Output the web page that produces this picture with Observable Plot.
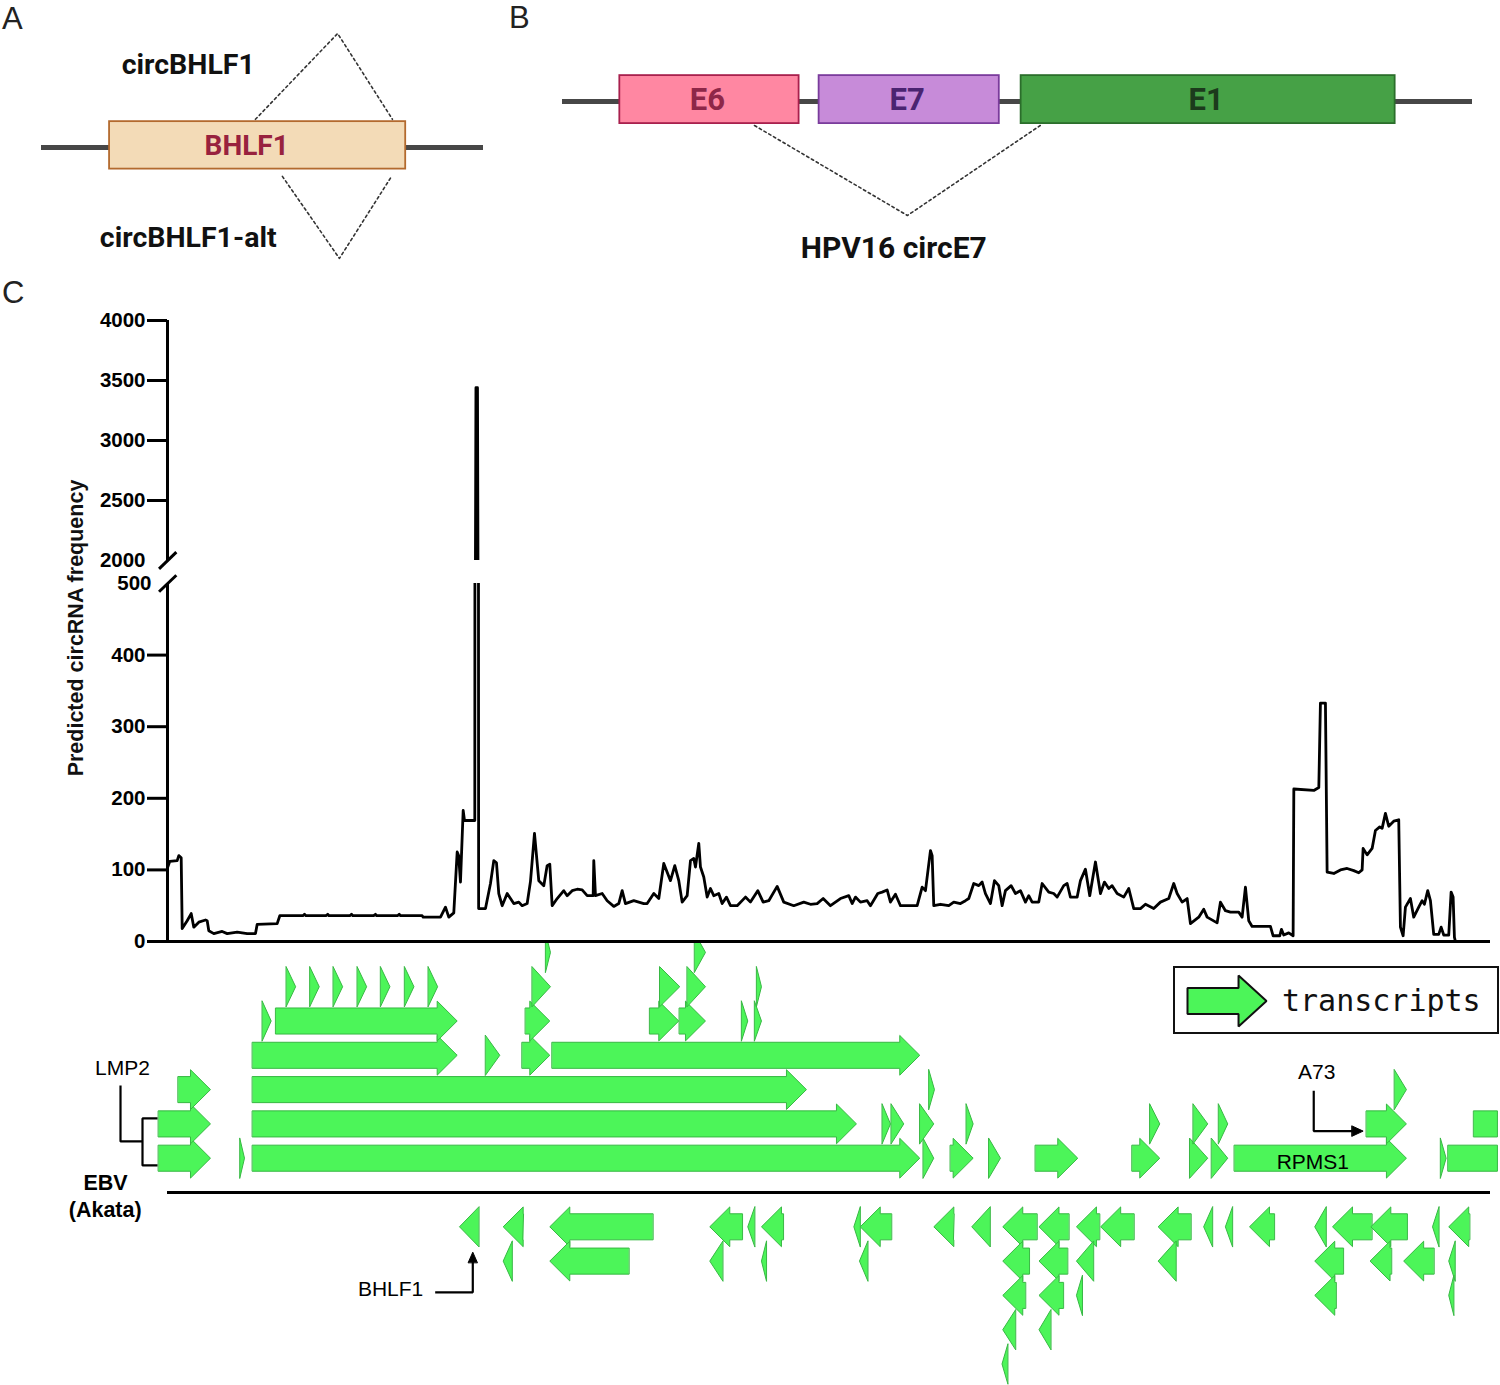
<!DOCTYPE html>
<html>
<head>
<meta charset="utf-8">
<script src="https://cdn.jsdelivr.net/npm/d3@7"></script>
<script src="https://cdn.jsdelivr.net/npm/@observablehq/plot@0.6"></script>
<style>
  html, body { margin: 0; padding: 0; background: #fff; }
  #fig { position: relative; width: 1500px; height: 1385px; overflow: hidden; background: #fff; color: #111; }
  .box { position: absolute; }
  .panel { position: absolute; font-family: "Liberation Sans", Arial, sans-serif; font-size: 31px; line-height: 34px; color: #222; }
  #ytitle { position: absolute; left: 76px; top: 628px; transform: translate(-50%, -50%) rotate(-90deg); white-space: nowrap; font: bold 21.5px "Liberation Sans", Arial, sans-serif; color: #111; }
  #legend { position: absolute; left: 1173px; top: 966px; width: 326px; height: 68px; box-sizing: border-box; border: 2px solid #111; background: #fff; }
  #legend span { position: absolute; left: 107px; top: 18px; font: 30px "DejaVu Sans Mono", monospace; line-height: 30px; color: #111; white-space: nowrap; }
</style>
</head>
<body>
<div id="fig">
  <div class="panel" style="left:2px;top:2px;">A</div>
  <div class="panel" style="left:509px;top:1px;">B</div>
  <div class="panel" style="left:2px;top:276px;">C</div>
  <div id="ytitle">Predicted circRNA frequency</div>
</div>
<script>
// ---------------- DATA ----------------
// Panel A: BHLF1 locus (schematic units along backbone 0–100)
const bhlf1Gene = [{name: "BHLF1", start: 15.4, end: 82.4}];
const bhlf1Circs = [
  {name: "circBHLF1", from: 48.4, to: 79.4, apex: 67.0, side: 1},
  {name: "circBHLF1-alt", from: 54.5, to: 79.2, apex: 67.4, side: -1}
];
// Panel B: HPV16 early region (schematic units along backbone 0–100)
const hpvGenes = [
  {name: "E6", start: 6.3, end: 26.0, fill: "#ff87a2", stroke: "#a8204d", ink: "#8e2748"},
  {name: "E7", start: 28.2, end: 48.0, fill: "#c78bd9", stroke: "#7a3c9c", ink: "#4a2471"},
  {name: "E1", start: 50.4, end: 91.5, fill: "#46a146", stroke: "#2b6e2b", ink: "#1c3a1c"}
];
const hpvCircs = [{name: "HPV16 circE7", from: 21.1, to: 52.5, apex: 37.9}];

// Panel C: predicted circRNA frequency along the EBV (Akata) genome, [kb, frequency]
const tracePoints = [
  [0,103],[0.3,112],[1.26,113],[1.47,120],[1.78,117],[1.91,18],[2.56,29],[3.08,39],[3.42,20],[4.07,27],
  [4.94,30],[5.16,29],[5.37,15],[6.02,11],[7.11,14],[7.76,11],[9.06,13],[10.36,11],[11.44,11],[11.66,24],
  [14.26,25],[14.6,36],[17.6,36],[17.81,38],[18.0,36],[20.6,36],[20.84,38],[21.0,36],[23.7,36],[23.92,38],
  [24.1,36],[26.8,36],[27.04,38],[27.2,36],[29.9,36],[30.12,38],[30.3,36],[33.11,36],[33.24,34],[35.49,34],
  [36.14,48],[36.57,34],[37.22,40],[37.66,125],[37.85,120],[38.09,83],[38.44,183],[38.61,169],[39.95,169],
  [40.1,3440],[40.3,3440],[40.45,46],[41.34,46],[41.99,81],[42.42,113],[42.77,110],[43.07,67],[43.51,50],
  [44.16,67],[45.02,53],[45.67,55],[46.11,50],[46.76,53],[47.19,84],[47.71,151],[48.27,85],[48.92,78],
  [49.36,106],[49.7,108],[50.01,50],[50.66,60],[51.52,71],[51.96,64],[52.61,71],[53.26,73],[53.91,72],
  [54.56,64],[55.34,64],[55.42,113],[55.64,64],[56.51,67],[57.16,57],[58.02,49],[58.67,53],[59.11,71],
  [59.54,53],[60.62,57],[61.92,53],[62.36,53],[63.22,67],[63.87,60],[64.52,109],[65.39,85],[65.95,106],
  [66.47,85],[66.91,55],[67.56,64],[67.99,113],[68.42,116],[68.64,104],[69.07,137],[69.29,104],[69.72,90],
  [70.16,62],[70.59,74],[71.02,64],[71.67,67],[72.11,53],[72.67,62],[73.19,50],[74.06,50],[75.14,62],
  [75.79,55],[76.74,71],[77.44,55],[78.17,57],[79.26,77],[80.12,55],[81.42,50],[82.72,55],[83.59,52],
  [84.46,53],[85.24,60],[86.19,50],[87.49,60],[88.57,64],[89.01,53],[89.44,62],[90.09,55],[90.96,57],
  [91.39,50],[92.34,67],[92.91,69],[93.56,72],[93.99,55],[94.64,66],[95.29,50],[97.46,50],[98.11,76],
  [98.54,71],[99.19,127],[99.41,120],[99.62,50],[100.49,52],[101.57,50],[102.22,55],[103.09,53],[103.74,57],
  [104.17,60],[104.82,81],[105.47,78],[105.91,83],[106.34,67],[106.99,53],[107.51,85],[108.07,78],[108.51,50],
  [108.94,71],[109.68,78],[110.24,67],[110.89,71],[111.54,55],[111.97,64],[112.41,55],[113.27,55],[113.71,81],
  [114.57,69],[115.22,67],[115.66,62],[116.52,78],[116.96,81],[117.39,62],[118.26,62],[118.69,85],[119.34,101],
  [119.9,64],[120.64,111],[121.29,67],[121.81,83],[122.37,74],[122.81,78],[123.46,67],[124.32,62],[124.97,74],
  [125.62,46],[126.49,46],[127.14,52],[128.22,46],[129.09,55],[130.17,60],[130.82,81],[131.26,67],[131.91,55],
  [132.56,60],[132.99,25],[134.07,34],[134.72,45],[135.16,34],[136.46,26],[136.89,55],[137.54,43],[138.19,41],
  [139.27,41],[139.71,34],[140.14,76],[140.57,29],[141.01,21],[143.39,21],[143.74,8],[144.6,8],[144.82,17],
  [145.12,9],[145.77,12],[146.34,8],[146.43,213],[149.03,211],[149.68,215],[149.89,333],[150.54,333],[150.76,97],
  [151.63,95],[152.49,100],[153.36,102],[154.22,99],[154.87,96],[155.31,100],[155.44,130],[155.96,121],[156.61,130],
  [157.04,155],[157.6,160],[157.91,158],[158.34,179],[158.77,161],[159.42,168],[160.07,170],[160.29,20],[160.64,8],
  [160.94,48],[161.59,60],[162.02,34],[162.67,48],[163.11,57],[163.41,52],[163.84,71],[164.19,57],[164.62,10],
  [165.27,10],[165.58,20],[165.92,9],[166.57,9],[166.88,69],[167.14,62],[167.31,6],[167.44,0]
];
const genomeKb = [0, 172];
const upperTicks = [2500, 3000, 3500, 4000];
const upperBreak = 2000;
const lowerTicks = [0, 100, 200, 300, 400];
const lowerBreak = 500;

// Transcripts: [start kb, end kb, row]; positive rows = forward strand (above), negative = reverse strand (below)
const forwardTranscripts = [
  [-1.17,5.59,1],[9.40,10.01,1],[11.05,97.80,1],[98.24,99.62,1],[101.79,104.74,1],[106.77,108.29,1],
  [112.84,118.34,1],[125.41,129.0,1],[132.9,135.24,1],[135.72,137.84,1],[138.71,161.07,1],[165.49,166.23,1],
  [-1.17,5.59,2],[11.05,89.57,2],[92.91,93.99,2],[94.08,95.72,2],[97.80,99.62,2],[103.83,104.74,2],
  [127.70,129.0,2],[133.34,135.24,2],[136.63,137.84,2],[155.87,161.07,2],
  [1.39,5.59,3],[11.05,83.07,3],[98.97,99.71,3],[159.5,161.07,3],
  [11.05,37.66,4],[41.34,43.2,4],[46.11,49.70,4],[50.01,97.80,4],
  [12.31,13.48,5],[14.08,37.66,5],[46.54,49.70,5],[62.70,66.47,5],[66.56,69.94,5],[74.62,75.44,5],[76.31,77.22,5],
  [15.43,16.66,6],[18.50,19.73,6],[21.54,22.77,6],[24.66,25.89,6],[27.69,28.92,6],[30.81,32.04,6],[33.89,35.12,6],
  [47.41,49.79,6],[64.0,66.6,6],[67.56,69.94,6],[76.57,77.22,6],
  [49.14,49.79,7],[68.51,69.94,7]
];
const truncatedTranscripts = [[166.49,172.9,1],[169.82,172.9,2]];
const reverseTranscripts = [
  [37.96,40.47,-1],[43.64,46.24,-1],[49.70,63.09,-1],[70.50,74.71,-1],[75.44,76.35,-1],[77.22,80.04,-1],
  [89.23,90.06,-1],[90.06,94.11,-1],[99.63,102.23,-1],[104.56,106.94,-1],[108.59,113.02,-1],[113.30,117.17,-1],
  [118.17,121.16,-1],[121.32,125.63,-1],[128.79,133.04,-1],[134.71,135.86,-1],[137.53,138.46,-1],[140.67,143.88,-1],
  [149.15,150.63,-1],[151.46,156.56,-1],[156.44,161.15,-1],[164.46,165.30,-1],[166.57,169.27,-1],
  [43.64,44.81,-2],[49.70,59.97,-2],[70.50,72.19,-2],[77.22,77.87,-2],[89.96,91.05,-2],[108.59,112.02,-2],
  [113.30,117.0,-2],[118.17,120.38,-2],[128.79,131.11,-2],[149.15,152.85,-2],[156.34,159.11,-2],[160.71,164.63,-2],
  [166.57,167.40,-2],
  [108.59,111.53,-3],[113.30,116.45,-3],[118.17,118.94,-3],[149.15,151.91,-3],[166.57,167.23,-3],
  [108.59,110.25,-4],[113.30,114.84,-4],
  [108.49,109.25,-5]
];
const trackLabels = [
  {text: "LMP2", kb: -5.85, row: 3.62, weight: "normal"},
  {text: "EBV", kb: -8.06, row: 0.26, weight: "bold"},
  {text: "(Akata)", kb: -8.1, row: -0.52, weight: "bold"},
  {text: "BHLF1", kb: 29.0, row: -2.83, weight: "normal"},
  {text: "A73", kb: 149.4, row: 3.5, weight: "normal"},
  {text: "RPMS1", kb: 148.9, row: 0.87, weight: "normal"}
];
const calloutLines = [
  {id: "lmp2-stem", pts: [[-6.11,3.12],[-6.11,1.49],[-3.25,1.49]]},
  {id: "lmp2-bracket", pts: [[-1.3,2.16],[-3.25,2.16],[-3.25,0.79],[-1.3,0.79]]},
  {id: "bhlf1", pts: [[34.8,-2.91],[39.69,-2.91],[39.69,-1.98]]},
  {id: "a73", pts: [[149.02,2.97],[149.02,1.79],[154.2,1.79]]}
];
const calloutHeads = [
  {id: "bhlf1-head", pts: [[39.1,-2.04],[39.69,-1.74],[40.28,-2.04]]},
  {id: "a73-head", pts: [[154.0,1.94],[155.44,1.79],[154.0,1.64]]}
];
const legendItems = [{label: "transcripts", start: 0, end: 1}];

// ---------------- HELPERS ----------------
const GREEN = "#4cf559", GREEN_EDGE = "#37b843";
const fig = document.getElementById("fig");
function place(node, left, top, parent = fig) {
  const d = document.createElement("div");
  d.className = "box"; d.style.left = left + "px"; d.style.top = top + "px";
  d.appendChild(node); parent.appendChild(d); return d;
}
const HEAD = 2.6, BODY = 0.38, HALF = 0.58;
function arrowPoints(id, s, e, r, dir, head, headLen = HEAD, body = BODY, half = HALF) {
  let p;
  if (!head) p = [[s, r + body], [e, r + body], [e, r - body], [s, r - body]];
  else if (e - s <= headLen) p = dir > 0 ? [[s, r + half], [e, r], [s, r - half]] : [[e, r + half], [s, r], [e, r - half]];
  else if (dir > 0) { const h = e - headLen; p = [[s, r + body], [h, r + body], [h, r + half], [e, r], [h, r - half], [h, r - body], [s, r - body]]; }
  else { const h = s + headLen; p = [[e, r + body], [h, r + body], [h, r + half], [s, r], [h, r - half], [h, r - body], [e, r - body]]; }
  return p.map(([x, y]) => ({id, x, y}));
}
const flat = (arr) => arr.flatMap(o => o.pts.map(([x, y]) => ({id: o.id, x, y})));
const fmt = d => String(d);

// ---------------- PANEL A ----------------
const circAPts = bhlf1Circs.flatMap(c => [
  {id: c.name, x: c.from, y: c.side > 0 ? 1.2 : -1.23},
  {id: c.name, x: c.apex, y: c.side > 0 ? 4.85 : -4.72},
  {id: c.name, x: c.to, y: c.side > 0 ? 1.2 : -1.23}
]);
const panelA = Plot.plot({
  width: 500, height: 275, marginLeft: 41, marginRight: 17, marginTop: 0, marginBottom: 0,
  x: {domain: [0, 100], axis: null}, y: {domain: [-5.447, 6.255], axis: null},
  style: {background: "transparent", fontFamily: "Roboto, 'Liberation Sans', sans-serif"},
  marks: [
    Plot.ruleY([0], {stroke: "#474747", strokeWidth: 5}),
    Plot.rect(bhlf1Gene, {x1: "start", x2: "end", y1: -0.92, y2: 1.1, fill: "#f3dbb7", stroke: "#b36a2e", strokeWidth: 1.8}),
    Plot.text(bhlf1Gene, {x: d => (d.start + d.end) / 2, y: 0.05, dx: -11, text: "name", fill: "#98223e", fontSize: 28, fontWeight: "bold"}),
    Plot.line(circAPts, {x: "x", y: "y", z: "id", stroke: "#333", strokeWidth: 1.6, strokeDasharray: "2.5,3"}),
    Plot.text(bhlf1Circs, {x: 33.2, y: d => d.side > 0 ? 3.53 : -3.85, text: "name", fill: "#111", fontSize: 28.5, fontWeight: "bold"})
  ]
});
place(panelA, 0, 0);

// ---------------- PANEL B ----------------
const circBPts = hpvCircs.flatMap(c => [
  {id: c.name, x: c.from, y: -1.0}, {id: c.name, x: c.apex, y: -4.75}, {id: c.name, x: c.to, y: -1.0}
]);
const panelB = Plot.plot({
  width: 1000, height: 275, marginLeft: 62, marginRight: 28, marginTop: 0, marginBottom: 0,
  x: {domain: [0, 100], axis: null}, y: {domain: [-7.25, 4.21], axis: null},
  style: {background: "transparent", fontFamily: "Roboto, 'Liberation Sans', sans-serif"},
  marks: [
    Plot.ruleY([0], {stroke: "#474747", strokeWidth: 5}),
    Plot.rect(hpvGenes, {x1: "start", x2: "end", y1: -0.92, y2: 1.08, fill: d => d.fill, stroke: d => d.stroke, strokeWidth: 1.8}),
    Plot.text(hpvGenes, {x: d => (d.start + d.end) / 2, y: 0.05, dx: -2, text: "name", fill: d => d.ink, fontSize: 31, fontWeight: "bold"}),
    Plot.line(circBPts, {x: "x", y: "y", z: "id", stroke: "#333", strokeWidth: 1.6, strokeDasharray: "2.5,3"}),
    Plot.text(hpvCircs, {x: 36.4, y: -6.12, text: "name", fill: "#111", fontSize: 30, fontWeight: "bold"})
  ]
});
place(panelB, 500, 0);

// ---------------- PANEL C: transcripts track ----------------
let k = 0;
const polys = [];
for (const [s, e, r] of forwardTranscripts) polys.push(...arrowPoints("f" + k++, s, e, r, 1, true));
for (const [s, e, r] of reverseTranscripts) polys.push(...arrowPoints("r" + k++, s, e, r, -1, true));
for (const [s, e, r] of truncatedTranscripts) polys.push(...arrowPoints("t" + k++, s, e, r, 1, false));

const track = Plot.plot({
  width: 1500, height: 443, marginLeft: 167, marginRight: 10, marginTop: 0, marginBottom: 0,
  x: {domain: genomeKb, axis: null}, y: {domain: [-5.627, 7.289], axis: null},
  style: {background: "transparent", fontFamily: "'Liberation Sans', Arial, sans-serif", fontSize: "21px", color: "#000"},
  marks: [
    Plot.ruleY([0], {stroke: "#000", strokeWidth: 3}),
    Plot.line(polys, {x: "x", y: "y", z: "id", fill: GREEN, stroke: GREEN_EDGE, strokeWidth: 1, curve: "linear-closed", strokeLinejoin: "miter"}),
    Plot.line(flat(calloutLines), {x: "x", y: "y", z: "id", stroke: "#000", strokeWidth: 2.2, strokeLinejoin: "miter", strokeLinecap: "butt"}),
    Plot.line(flat(calloutHeads), {x: "x", y: "y", z: "id", fill: "#000", stroke: "#000", strokeWidth: 1, curve: "linear-closed"}),
    Plot.text(trackLabels.filter(d => d.weight === "normal"), {x: "kb", y: "row", text: "text", fill: "#000", fontSize: 21}),
    Plot.text(trackLabels.filter(d => d.weight === "bold"), {x: "kb", y: "row", text: "text", fill: "#000", fontSize: 21.5, fontWeight: "bold"})
  ]
});
place(track, 0, 942);

// ---------------- PANEL C: frequency chart (broken axis) ----------------
const chartStyle = {background: "transparent", fontFamily: "'Liberation Sans', Arial, sans-serif", fontSize: "20.5px", fontWeight: "bold", color: "#000"};
const upper = Plot.plot({
  width: 1500, height: 282, marginLeft: 167, marginRight: 10, marginTop: 20, marginBottom: 22,
  x: {domain: genomeKb, axis: null}, y: {domain: [upperBreak, 4000], axis: null},
  style: chartStyle,
  marks: [
    Plot.line(tracePoints, {x: d => d[0], y: d => d[1], stroke: "#000", strokeWidth: 2.8, clip: true}),
    Plot.ruleX([0], {stroke: "#000", strokeWidth: 3}),
    Plot.axisY({ticks: upperTicks, tickSize: 20, tickPadding: 2, strokeWidth: 3, tickFormat: fmt, label: null}),
    Plot.axisY({ticks: [upperBreak], tickSize: 0, tickPadding: 22, tickFormat: fmt, label: null}),
    Plot.link([upperBreak], {x1: -1.1, x2: 1.15, y1: d => d - 70, y2: d => d + 70, stroke: "#000", strokeWidth: 3})
  ]
});
place(upper, 0, 300);

const lower = Plot.plot({
  width: 1500, height: 385, marginLeft: 167, marginRight: 10, marginTop: 13, marginBottom: 14,
  x: {domain: genomeKb, axis: null}, y: {domain: [0, lowerBreak], axis: null},
  style: chartStyle,
  marks: [
    Plot.line(tracePoints, {x: d => d[0], y: d => d[1], stroke: "#000", strokeWidth: 2.8, clip: true}),
    Plot.ruleX([0], {stroke: "#000", strokeWidth: 3}),
    Plot.ruleY([0], {stroke: "#000", strokeWidth: 3}),
    Plot.axisY({ticks: lowerTicks, tickSize: 20, tickPadding: 2, strokeWidth: 3, tickFormat: fmt, label: null}),
    Plot.axisY({ticks: [lowerBreak], tickSize: 0, tickPadding: 16, tickFormat: fmt, label: null}),
    Plot.link([lowerBreak], {x1: -1.1, x2: 1.15, y1: d => d - 11.5, y2: d => d + 11.5, stroke: "#000", strokeWidth: 3})
  ]
});
place(lower, 0, 570);

// ---------------- Legend ----------------
const legend = document.createElement("div");
legend.id = "legend";
fig.appendChild(legend);
const legendPts = legendItems.flatMap(d => arrowPoints(d.label, d.start, d.end, 0, 1, true, 0.354, 0.51, 1));
const swatch = Plot.plot({
  width: 90, height: 60, marginLeft: 5, marginRight: 6, marginTop: 5, marginBottom: 4,
  x: {domain: [0, 1], axis: null}, y: {domain: [-1, 1], axis: null},
  style: {background: "transparent", overflow: "visible"},
  marks: [Plot.line(legendPts, {x: "x", y: "y", z: "id", fill: GREEN, stroke: "#111", strokeWidth: 2, curve: "linear-closed", strokeLinejoin: "miter"})]
});
place(swatch, 7, 2, legend);
const lt = document.createElement("span");
lt.textContent = legendItems[0].label;
legend.appendChild(lt);
</script>
</body>
</html>
